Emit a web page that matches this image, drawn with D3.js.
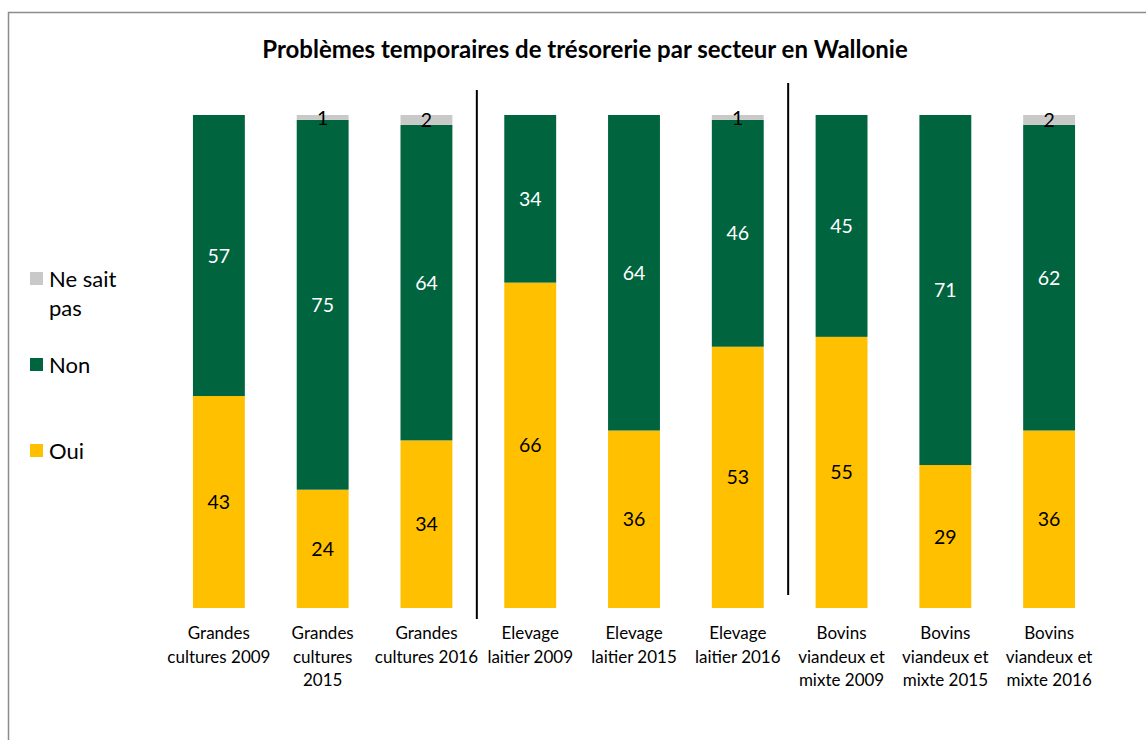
<!DOCTYPE html>
<html lang="fr">
<head>
<meta charset="utf-8">
<title>Problèmes temporaires de trésorerie</title>
<script src="https://d3js.org/d3.v7.min.js"></script>
<style>
  body { margin: 0; background: #fff; }
  svg text { font-family: Lato, "Open Sans", sans-serif; fill: #000; }
</style>
</head>
<body>
<div id="chart"></div>
<script>
// categories (lines of the tick labels separated by |)
var categories = [
  "Grandes|cultures 2009", "Grandes|cultures|2015", "Grandes|cultures 2016",
  "Elevage|laitier 2009", "Elevage|laitier 2015", "Elevage|laitier 2016",
  "Bovins|viandeux et|mixte 2009", "Bovins|viandeux et|mixte 2015", "Bovins|viandeux et|mixte 2016"
];
var oui      = [43, 24, 34, 66, 36, 53, 55, 29, 36];
var non      = [57, 75, 64, 34, 64, 46, 45, 71, 62];
var neSaitPas = [0, 1, 2, 0, 0, 1, 0, 0, 2];
var seriesNames = ["Oui", "Non", "Ne sait pas"];
var colors = ["#FFC000", "#00643F", "#C9C9C9"];

var W = 1146, H = 740;
var margin = {top: 115, left: 167, right: 45, bottom: 132};
var width = W - margin.left - margin.right,
    height = H - margin.top - margin.bottom;

var svg = d3.select("#chart").append("svg")
    .attr("width", W).attr("height", H);

// frame
svg.append("path")
  .attr("d", "M8.5,740 L8.5,12.5 L1146,12.5")
  .attr("fill", "none").attr("stroke", "#8c8c8c").attr("stroke-width", 1.5);

svg.append("text")
  .attr("x", 585).attr("y", 58)
  .attr("text-anchor", "middle")
  .attr("font-size", 24).attr("font-weight", "bold")
  .text("Problèmes temporaires de trésorerie par secteur en Wallonie");

var g = svg.append("g")
  .attr("transform", "translate(" + margin.left + "," + margin.top + ")");

var x = d3.scaleBand().domain(categories).range([0, width]).paddingInner(0.5).paddingOuter(0.25);
var y = d3.scaleLinear().domain([0, 100]).range([height, 0]);

var rows = categories.map(function(c, i) {
  return {cat: c, "Oui": oui[i], "Non": non[i], "Ne sait pas": neSaitPas[i]};
});
var stack = d3.stack().keys(seriesNames)(rows);

var layers = g.selectAll(".layer").data(stack).enter().append("g")
  .attr("fill", function(d, i) { return colors[i]; });

layers.selectAll("rect").data(function(d) { return d; }).enter().append("rect")
  .attr("x", function(d) { return x(d.data.cat); })
  .attr("y", function(d) { return y(d[1]); })
  .attr("width", x.bandwidth())
  .attr("height", function(d) { return y(d[0]) - y(d[1]); });

layers.selectAll("text").data(function(d) { return d.filter(function(s) { return s[1] - s[0] > 0; }); })
  .enter().append("text")
  .attr("x", function(d) { return x(d.data.cat) + x.bandwidth() / 2; })
  .attr("y", function(d) { return y((d[0] + d[1]) / 2); })
  .attr("dy", "0.36em")
  .attr("text-anchor", "middle")
  .attr("font-size", 19.5)
  .style("fill", function(d) { return d3.select(this.parentNode).datum().key === "Non" ? "#fff" : "#000"; })
  .text(function(d) { return d[1] - d[0]; });

// category labels
var labels = g.selectAll(".cat").data(categories).enter().append("text")
  .attr("class", "cat")
  .attr("text-anchor", "middle")
  .attr("font-size", 17)
  .attr("transform", function(d) { return "translate(" + (x(d) + x.bandwidth() / 2) + "," + (height + 31) + ")"; });
labels.selectAll("tspan").data(function(d) { return d.split("|"); }).enter().append("tspan")
  .attr("x", 0).attr("dy", function(d, i) { return i ? 23.5 : 0; })
  .text(function(d) { return d; });

// group separators
var step = x.step();
[[3, -25, 529], [6, -32, 512]].forEach(function(s) {
  var sx = x(categories[s[0]]) - step * x.paddingInner() / 2 - 1.5;
  g.append("line")
    .attr("x1", sx).attr("x2", sx)
    .attr("y1", s[1]).attr("y2", s[1] + s[2])
    .attr("stroke", "#000").attr("stroke-width", 2);
});

// legend
var legend = [
  {name: ["Ne sait", "pas"], color: colors[2], y: 279},
  {name: ["Non"], color: colors[1], y: 365},
  {name: ["Oui"], color: colors[0], y: 451}
];
var lg = svg.selectAll(".leg").data(legend).enter().append("g")
  .attr("transform", function(d) { return "translate(30," + d.y + ")"; });
lg.append("rect").attr("x", 0).attr("y", -7).attr("width", 13).attr("height", 13)
  .attr("fill", function(d) { return d.color; });
lg.append("text").attr("font-size", 22)
  .selectAll("tspan").data(function(d) { return d.name; }).enter().append("tspan")
  .attr("x", 19).attr("dy", function(d, i) { return i ? 29 : 8; })
  .text(function(d) { return d; });
</script>
</body>
</html>
